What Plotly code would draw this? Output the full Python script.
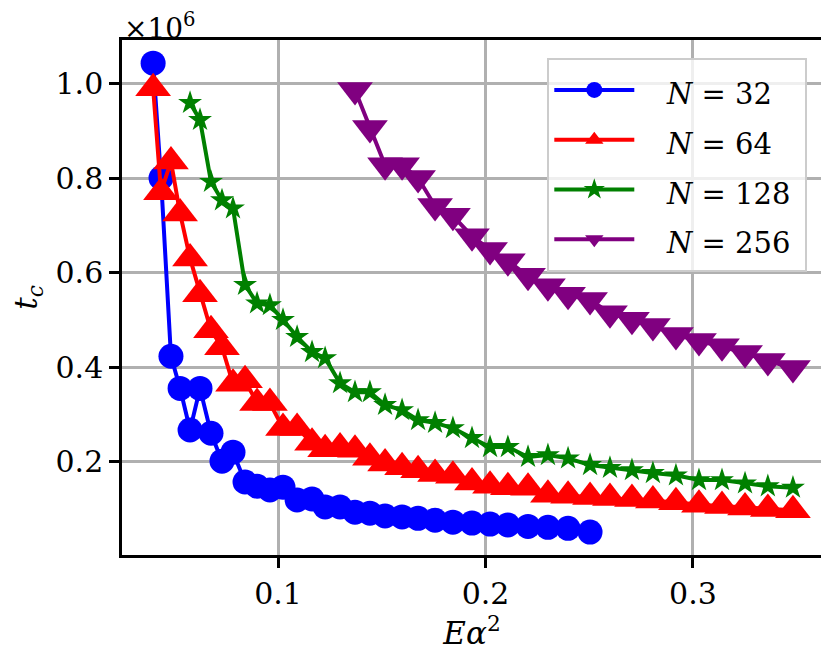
import plotly.graph_objects as go

# common E*alpha^2 grid
x_grid = [0.0398, 0.0436, 0.0484, 0.0528, 0.0576, 0.0624, 0.0677, 0.0730, 0.0783, 0.0841,
          0.0899, 0.0961, 0.1024, 0.1092, 0.1164, 0.1227, 0.1299, 0.1371, 0.1443, 0.1516,
          0.1598, 0.1675, 0.1757, 0.1843, 0.1935, 0.2022, 0.2108, 0.2205, 0.2301, 0.2398,
          0.2504, 0.2600, 0.2706, 0.2807, 0.2918, 0.3029, 0.3140, 0.3251, 0.3361, 0.3482]

# t_c in units of 1e6
tc_32 = [1.043, 0.800, 0.423, 0.355, 0.267, 0.355, 0.260, 0.201, 0.220, 0.157,
         0.148, 0.140, 0.146, 0.119, 0.121, 0.104, 0.104, 0.093, 0.091, 0.085,
         0.083, 0.080, 0.076, 0.072, 0.070, 0.068, 0.066, 0.063, 0.061, 0.059,
         0.051]
tc_64 = [0.990, 0.770, 0.835, 0.725, 0.630, 0.554, 0.478, 0.442, 0.365, 0.372,
         0.324, 0.324, 0.271, 0.271, 0.240, 0.226, 0.230, 0.225, 0.208, 0.196,
         0.188, 0.182, 0.174, 0.170, 0.156, 0.149, 0.146, 0.145, 0.130, 0.128,
         0.125, 0.123, 0.121, 0.118, 0.114, 0.109, 0.106, 0.103, 0.100, 0.097]
tc_128 = [0.959, 0.923, 0.792, 0.753, 0.736, 0.574,
          0.535, 0.531, 0.500, 0.464, 0.432, 0.419, 0.366, 0.347, 0.347, 0.320,
          0.309, 0.288, 0.282, 0.271, 0.250, 0.231, 0.231, 0.210, 0.214, 0.207,
          0.193, 0.187, 0.182, 0.176, 0.171, 0.161, 0.161, 0.154, 0.148, 0.145]
tc_256 = [0.986, 0.906, 0.827, 0.827, 0.800, 0.741, 0.720, 0.677, 0.648, 0.624,
          0.593, 0.571, 0.553, 0.542, 0.514, 0.500, 0.487, 0.468, 0.455, 0.444,
          0.430, 0.413, 0.398]

labels = ["<i>N</i> = 32", "<i>N</i> = 64", "<i>N</i> = 128", "<i>N</i> = 256"]
y_ticks = [0.2, 0.4, 0.6, 0.8, 1.0]
x_ticks = [0.1, 0.2, 0.3]

FONT = "DejaVu Serif, Liberation Serif, serif"

series = [
    (x_grid[:len(tc_32)], tc_32, "#0000ff", "circle", 25),
    (x_grid, tc_64, "#ff0000", "triangle-up", 31),
    (x_grid[len(x_grid) - len(tc_128):], tc_128, "#008000", "star", 18),
    (x_grid[len(x_grid) - len(tc_256):], tc_256, "#800080", "triangle-down", 31),
]

fig = go.Figure()
for (xs, ys, col, sym, sz), lab in zip(series, labels):
    fig.add_trace(go.Scatter(x=xs, y=ys, mode="lines+markers",
                             name="<span style='font-size:29px'>&nbsp;&nbsp;&nbsp;" + lab + "&nbsp;</span>",
                             line=dict(color=col, width=4),
                             marker=dict(symbol=sym, size=sz, color=col, line=dict(width=0))))

axis_common = dict(showline=True, linecolor="black", linewidth=2.5, mirror=True,
                   ticks="outside", ticklen=10, tickwidth=2.5, tickcolor="black",
                   showgrid=True, gridcolor="#b0b0b0", gridwidth=2.5, zeroline=False,
                   automargin=False,
                   tickfont=dict(family=FONT, size=30, color="black"))

# page body has an 8px offset, margins compensate for it
fig.update_layout(
    width=829, height=663,
    margin=dict(l=114, r=15, t=32, b=116),
    paper_bgcolor="white", plot_bgcolor="white",
    font=dict(family=FONT, size=28, color="black"),
    xaxis=dict(range=[0.0248, 0.3622], tickvals=x_ticks, ticktext=[f"{v:.1f}" for v in x_ticks],
               title=dict(text="<i>Eα</i><sup>2</sup>", font=dict(family=FONT, size=31), standoff=5),
               **axis_common),
    yaxis=dict(range=[0.0025, 1.092], tickvals=y_ticks, ticktext=[f"{v:.1f}" for v in y_ticks],
               title=dict(text="<i>t</i><sub><i>c</i></sub>", font=dict(family=FONT, size=31), standoff=16),
               **axis_common),
    legend=dict(x=0.979, y=0.965, xanchor="right", yanchor="top",
                bgcolor="rgba(255,255,255,0.8)", bordercolor="#cccccc", borderwidth=2,
                font=dict(family=FONT, size=36), itemwidth=80, tracegroupgap=0),
    showlegend=True,
)

fig.add_annotation(text="×10<sup>6</sup>", xref="paper", yref="paper", x=0.0, y=1.0,
                   xanchor="left", yanchor="bottom", showarrow=False,
                   font=dict(family=FONT, size=28, color="black"), yshift=-7)

fig.write_html("out.html")
